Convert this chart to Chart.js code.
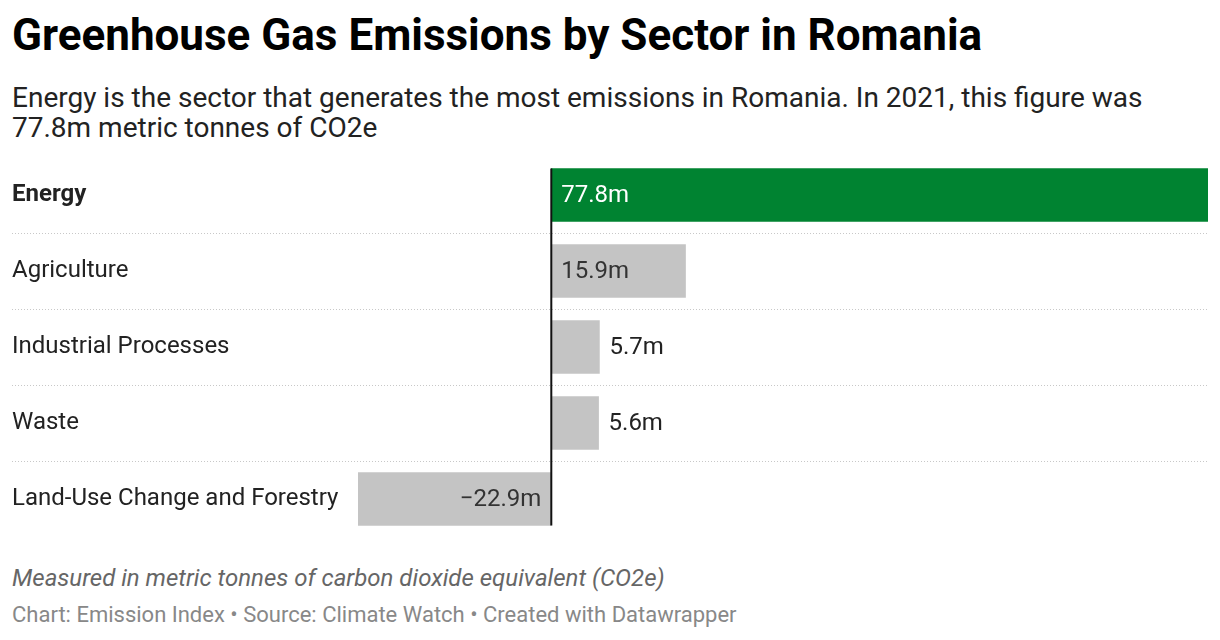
<!DOCTYPE html>
<html>
<head>
<meta charset="utf-8">
<script src="https://cdn.jsdelivr.net/npm/chart.js@4"></script>
<style>
  body { margin: 0; background: #fff; font-family: Roboto, sans-serif; width: 1220px; height: 640px; overflow: hidden; position: relative; }
  #title { position: absolute; left: 12px; top: 9px; font-size: 44px; font-weight: bold; color: #000; white-space: nowrap; }
  #subtitle { position: absolute; left: 12px; top: 83px; font-size: 28px; line-height: 30px; color: #222; width: 1160px; }
  #notes { position: absolute; left: 12px; top: 564px; font-size: 24px; font-style: italic; color: #666; }
  #source { position: absolute; left: 12px; top: 602px; font-size: 22px; color: #888; }
  #wrap { position: absolute; left: 0; top: 0; width: 1220px; height: 560px; }
</style>
</head>
<body>
<div id="title">Greenhouse Gas Emissions by Sector in Romania</div>
<div id="subtitle">Energy is the sector that generates the most emissions in Romania. In 2021, this figure was 77.8m metric tonnes of CO2e</div>
<div id="wrap"><canvas id="chart"></canvas></div>
<div id="notes">Measured in metric tonnes of carbon dioxide equivalent (CO2e)</div>
<div id="source">Chart: Emission Index • Source: Climate Watch • Created with Datawrapper</div>
<script>
const sectors = ['Energy', 'Agriculture', 'Industrial Processes', 'Waste', 'Land-Use Change and Forestry'];
const emissions = [77.8, 15.9, 5.7, 5.6, -22.9];
const barColors = ['#008331', '#c4c4c4', '#c4c4c4', '#c4c4c4', '#c4c4c4'];

const fmt = v => (v < 0 ? '\u2212' : '') + Math.abs(v).toFixed(1) + 'm';

// dotted row separators + zero line + value labels
const decorations = {
    id: 'decorations',
    beforeDatasetsDraw(chart) {
        const { ctx } = chart;
        const y = chart.scales.y;
        ctx.save();
        ctx.strokeStyle = '#c8c8c8';
        ctx.lineWidth = 1;
        ctx.setLineDash([1, 2]);
        for (let i = 0; i < sectors.length - 1; i++) {
            const py = Math.round((y.getPixelForValue(i) + y.getPixelForValue(i + 1)) / 2) + 0.5;
            ctx.beginPath();
            ctx.moveTo(12, py);
            ctx.lineTo(chart.chartArea.right, py);
            ctx.stroke();
        }
        ctx.restore();
    },
    afterDatasetsDraw(chart) {
        const { ctx } = chart;
        const x = chart.scales.x;
        const bars = chart.getDatasetMeta(0).data;
        const zero = x.getPixelForValue(0);

        ctx.save();
        ctx.strokeStyle = '#111';
        ctx.lineWidth = 2;
        ctx.beginPath();
        ctx.moveTo(zero, bars[0].y - bars[0].height / 2);
        ctx.lineTo(zero, bars[bars.length - 1].y + bars[bars.length - 1].height / 2);
        ctx.stroke();

        ctx.font = '24px Roboto';
        ctx.textBaseline = 'middle';
        bars.forEach((bar, i) => {
            const v = emissions[i];
            const text = fmt(v);
            const tw = ctx.measureText(text).width;
            const bw = Math.abs(bar.x - zero);
            const inside = bw > tw + 24;
            if (v >= 0) {
                ctx.textAlign = 'left';
                if (inside) {
                    ctx.fillStyle = i === 0 ? '#fff' : '#333';
                    ctx.fillText(text, zero + 10, bar.y + 1);
                } else {
                    ctx.fillStyle = '#222';
                    ctx.fillText(text, bar.x + 10, bar.y + 1);
                }
            } else {
                ctx.textAlign = 'right';
                ctx.fillStyle = '#333';
                ctx.fillText(text, zero - 10, bar.y + 1);
            }
        });
        ctx.restore();
    }
};

new Chart(document.getElementById('chart'), {
    type: 'bar',
    data: {
        labels: sectors,
        datasets: [{
            data: emissions,
            backgroundColor: barColors,
            barThickness: 53,
            borderWidth: 0
        }]
    },
    options: {
        indexAxis: 'y',
        responsive: true,
        maintainAspectRatio: false,
        animation: false,
        layout: { padding: { top: 157, bottom: 23, left: 12, right: 12 } },
        plugins: { legend: { display: false }, tooltip: { enabled: false } },
        scales: {
            x: {
                display: false,
                min: -22.9,
                max: 77.8
            },
            y: {
                grid: { display: false },
                border: { display: false },
                afterFit(scale) { scale.width = 346; },
                ticks: {
                    crossAlign: 'far',
                    color: '#222',
                    padding: 0,
                    font: ctx => ({ family: 'Roboto', size: 24, weight: ctx.index === 0 ? 'bold' : 'normal' })
                }
            }
        }
    },
    plugins: [decorations]
});
</script>
</body>
</html>
